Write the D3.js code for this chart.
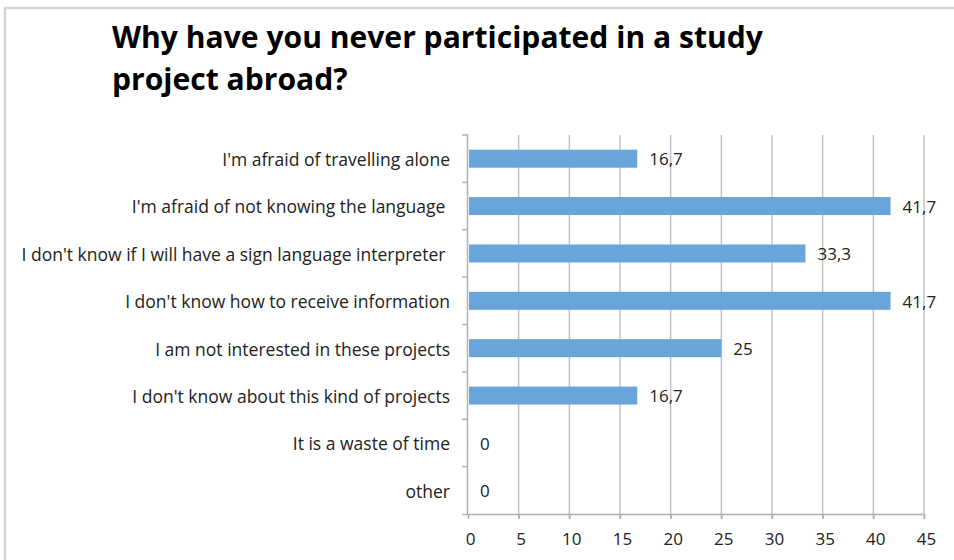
<!DOCTYPE html>
<html><head><meta charset="utf-8">
<script src="https://cdn.jsdelivr.net/npm/d3@7"></script>
<style>body{margin:0;background:#fff}svg{display:block}text{white-space:pre}</style>
</head><body>
<svg id="c" width="954" height="560"></svg>
<script>
const categories = ["I'm afraid of travelling alone","I'm afraid of not knowing the language ","I don't know if I will have a sign language interpreter ","I don't know how to receive information","I am not interested in these projects","I don't know about this kind of projects","It is a waste of time","other"];
const values = [16.7,41.7,33.3,41.7,25,16.7,0,0];
const valueLabels = ["16,7","41,7","33,3","41,7","25","16,7","0","0"];
const xTicks = [0,5,10,15,20,25,30,35,40,45];
const titleLines = ["Why have you never participated in a study","project abroad?"];

const FONT = "'Open Sans', Lato, sans-serif";
const svg = d3.select("#c");
const m = {left:468, right:924, top:135, bottom:514};
const x = d3.scaleLinear().domain([0,45]).range([m.left,m.right]);
const y = d3.scaleBand().domain(categories).range([m.top,m.bottom]).paddingInner(0.62).paddingOuter(0.31);

// fit a font size so a probe string reaches a target width
function fitSize(str, weight, target, base){
  const t = svg.append("text").attr("font-family",FONT).attr("font-weight",weight).attr("font-size",base).text(str);
  const w = t.node().getComputedTextLength(); t.remove();
  return base*target/w;
}
const titleSize = fitSize(titleLines[0],"bold",651,28);
const catSize = fitSize(categories[0],"normal",228,15);

// frame
svg.append("path").attr("d","M5,560V8H954").attr("fill","none").attr("stroke","#d4d4d4").attr("stroke-width",2.5);

// title
svg.append("g").selectAll("text").data(titleLines).join("text")
  .attr("x",112).attr("y",(d,i)=>48+i*42)
  .attr("font-family",FONT).attr("font-weight","bold").attr("font-size",titleSize)
  .attr("fill","#000").text(d=>d);

// gridlines
svg.append("g").selectAll("line").data(xTicks.slice(1)).join("line")
  .attr("x1",d=>x(d)).attr("x2",d=>x(d)).attr("y1",m.top).attr("y2",m.bottom+5)
  .attr("stroke","#c4c4c4").attr("stroke-width",1.5);

// x axis
const xa = svg.append("g").attr("transform",`translate(0,${m.bottom})`)
  .call(d3.axisBottom(x).tickValues(xTicks).tickSize(5).tickSizeOuter(0).tickPadding(14));
xa.select(".domain").attr("stroke","#b0b0b0").attr("stroke-width",1.5).attr("d",`M${m.left-6},0.5H${m.right}`);
xa.selectAll(".tick line").attr("stroke","#b0b0b0").attr("stroke-width",1.5);
xa.selectAll(".tick text").attr("font-family",FONT).attr("font-size",17).attr("fill","#222").attr("dx",2);

// y axis
const ya = svg.append("g").attr("transform",`translate(${m.left},0)`)
  .call(d3.axisLeft(y).tickSize(0).tickPadding(18));
ya.select(".domain").attr("stroke","#b0b0b0").attr("stroke-width",1.5).attr("d",`M-0.5,${m.top}V${m.bottom}`);
ya.selectAll(".tick text").attr("font-family",FONT).attr("font-size",catSize).attr("fill","#222").attr("dy","0.42em");
svg.append("g").selectAll("line").data(d3.range(categories.length)).join("line")
  .attr("x1",m.left-6).attr("x2",m.left).attr("y1",i=>m.top+i*(m.bottom-m.top)/categories.length).attr("y2",i=>m.top+i*(m.bottom-m.top)/categories.length)
  .attr("stroke","#b0b0b0").attr("stroke-width",1.5);

// bars
svg.append("g").selectAll("rect").data(values).join("rect")
  .attr("x",x(0)+1).attr("y",(d,i)=>y(categories[i])).attr("width",d=>Math.max(0,x(d)-x(0)-1)).attr("height",y.bandwidth())
  .attr("fill","#67a5da");

// value labels
svg.append("g").selectAll("text").data(values).join("text")
  .attr("x",d=>x(d)+12).attr("y",(d,i)=>y(categories[i])+y.bandwidth()/2).attr("dy","0.4em")
  .attr("font-family",FONT).attr("font-size",17).attr("fill","#222")
  .text((d,i)=>valueLabels[i]);
</script>
</body></html>
